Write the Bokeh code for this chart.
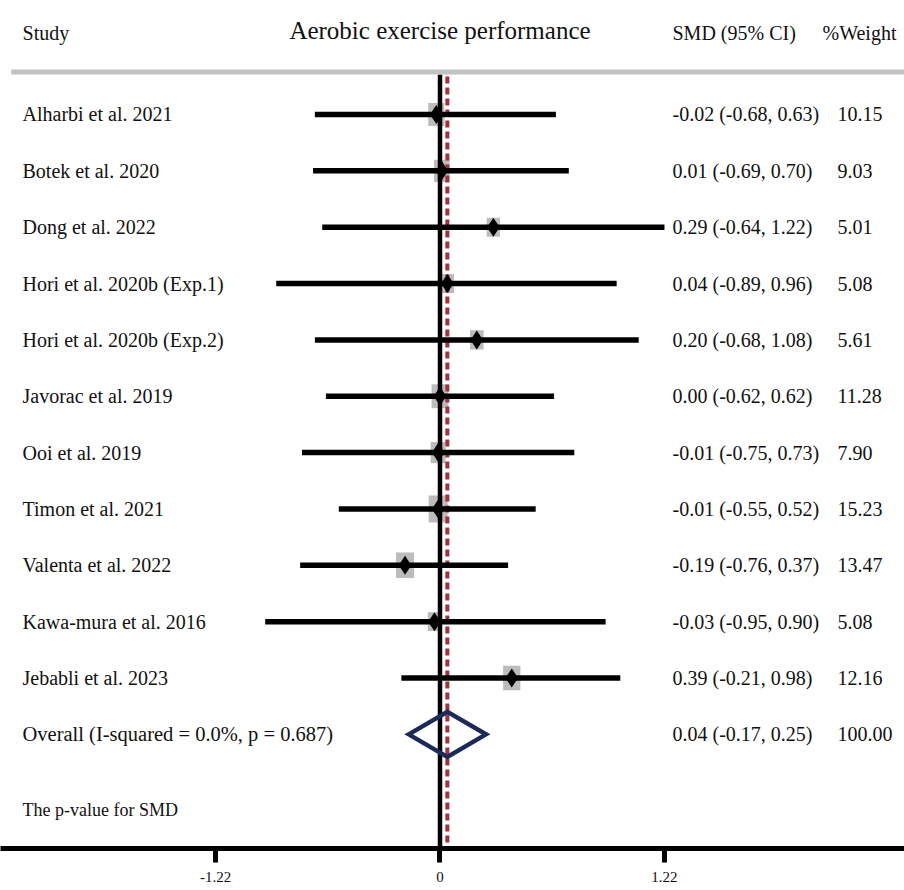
from bokeh.plotting import figure
from bokeh.models import Range1d, ColumnDataSource, FixedTicker
from bokeh.core.properties import value
from bokeh.embed import file_html
from bokeh.resources import INLINE

# ---------------- data ----------------
studies = [
    "Alharbi et al. 2021",
    "Botek et al. 2020",
    "Dong et al. 2022",
    "Hori et al. 2020b (Exp.1)",
    "Hori et al. 2020b (Exp.2)",
    "Javorac et al. 2019",
    "Ooi et al. 2019",
    "Timon et al. 2021",
    "Valenta et al. 2022",
    "Kawa-mura et al. 2016",
    "Jebabli et al. 2023",
]
smd = [-0.02, 0.01, 0.29, 0.04, 0.20, 0.00, -0.01, -0.01, -0.19, -0.03, 0.39]
ci_low = [-0.68, -0.69, -0.64, -0.89, -0.68, -0.62, -0.75, -0.55, -0.76, -0.95, -0.21]
ci_high = [0.63, 0.70, 1.22, 0.96, 1.08, 0.62, 0.73, 0.52, 0.37, 0.90, 0.98]
weights = [10.15, 9.03, 5.01, 5.08, 5.61, 11.28, 7.90, 15.23, 13.47, 5.08, 12.16]

overall_label = "Overall  (I-squared = 0.0%, p = 0.687)"
overall_smd = 0.04
overall_low = -0.17
overall_high = 0.25
overall_weight = 100.00

title_text = "Aerobic exercise performance"
header_study = "Study"
header_smd = "SMD (95% CI)"
header_weight = "%Weight"
footer_text = "The p-value for SMD"

tick_values = [-1.22, 0, 1.22]
tick_labels = ["-1.22", "0", "1.22"]

# ---------------- layout ----------------
FONT = value("Liberation Serif")
n = len(studies)
rows = list(range(n))
overall_row = n
header_row = -1.44
rule_row = -0.754
footer_row = 12.35
y_bottom = 13.026
y_top = -2.023

x_label = -2.269
x_smd = 1.2636
x_weight = 2.160
x_weight_head = 2.079

p = figure(width=904, height=890, output_backend="svg", toolbar_location=None,
           x_range=Range1d(-2.3886, 2.5245), y_range=Range1d(y_bottom, y_top),
           y_axis_location=None, min_border_left=0, min_border_right=0,
           min_border_top=0, min_border_bottom=42)
p.outline_line_color = None
p.grid.visible = False
p.background_fill_color = "white"
p.border_fill_color = "white"

# header rule
p.segment(x0=[-2.33], x1=[2.5245], y0=[rule_row], y1=[rule_row],
          line_color="#c2c2c2", line_width=5)

# weight squares
src = ColumnDataSource(dict(
    y=rows, smd=smd, lo=ci_low, hi=ci_high,
    sw=[10.5 + 0.56 * w for w in weights],
    sh=[(10.5 + 0.56 * w) * 1.42 for w in weights],
    label=studies,
    smdtxt=[f"{s:.2f} ({l:.2f}, {h:.2f})" for s, l, h in zip(smd, ci_low, ci_high)],
    wtxt=[f"{w:.2f}" for w in weights],
))
p.rect(x="smd", y="y", width="sw", height="sh", width_units="screen",
       height_units="screen", source=src, fill_color="#bcbcbc", line_color=None)

# reference lines
p.segment(x0=[0], x1=[0], y0=[rule_row + 0.05], y1=[y_bottom], line_color="black", line_width=4.5)
p.segment(x0=[overall_smd], x1=[overall_smd], y0=[rule_row + 0.08], y1=[y_bottom],
          line_color="#a3303c", line_width=4, line_dash="7 4")

# CI lines
p.segment(x0="lo", x1="hi", y0="y", y1="y", source=src, line_color="black",
          line_width=5.5, line_cap="butt")
# point estimates
p.scatter(x="smd", y="y", source=src, marker="diamond", size=19,
          fill_color="black", line_color=None)

# overall diamond
dh = 0.40
p.patch(x=[overall_low, overall_smd, overall_high, overall_smd],
        y=[overall_row, overall_row - dh, overall_row, overall_row + dh],
        fill_color=None, line_color="#1b2a58", line_width=4.5, line_join="miter")

# texts
common = dict(text_font=FONT, text_baseline="middle", text_color="#111111")
p.text(x=[x_label] * n, y=rows, text=studies, text_font_size="20px", **common)
p.text(x=[x_smd] * n, y=rows, text=src.data["smdtxt"], text_font_size="20px", **common)
p.text(x=[x_weight] * n, y=rows, text=src.data["wtxt"], text_font_size="20px", **common)

p.text(x=[x_label], y=[overall_row], text=[overall_label], text_font_size="20.5px", **common)
p.text(x=[x_smd], y=[overall_row],
       text=[f"{overall_smd:.2f} ({overall_low:.2f}, {overall_high:.2f})"],
       text_font_size="20px", **common)
p.text(x=[x_weight], y=[overall_row], text=[f"{overall_weight:.2f}"],
       text_font_size="20px", **common)

p.text(x=[x_label], y=[header_row], text=[header_study], text_font_size="20px", **common)
p.text(x=[0], y=[header_row - 0.05], text=[title_text], text_font_size="25px",
       text_align="center", **common)
p.text(x=[x_smd], y=[header_row], text=[header_smd], text_font_size="20px", **common)
p.text(x=[x_weight_head], y=[header_row], text=[header_weight], text_font_size="20px", **common)
p.text(x=[x_label], y=[footer_row], text=[footer_text], text_font_size="18px", **common)

# axis
ax = p.xaxis[0]
ax.ticker = FixedTicker(ticks=tick_values)
ax.major_label_overrides = {v: l for v, l in zip(tick_values, tick_labels)}
ax.axis_line_width = 5
ax.axis_line_color = "black"
ax.major_tick_line_width = 5
ax.major_tick_line_color = "black"
ax.major_tick_in = 0
ax.major_tick_out = 14
ax.minor_tick_line_color = None
ax.major_label_text_font = "Liberation Serif"
ax.major_label_text_font_size = "15px"
ax.major_label_text_color = "#111111"
ax.major_label_standoff = 9

open("out.html", "w").write(file_html(p, INLINE))
